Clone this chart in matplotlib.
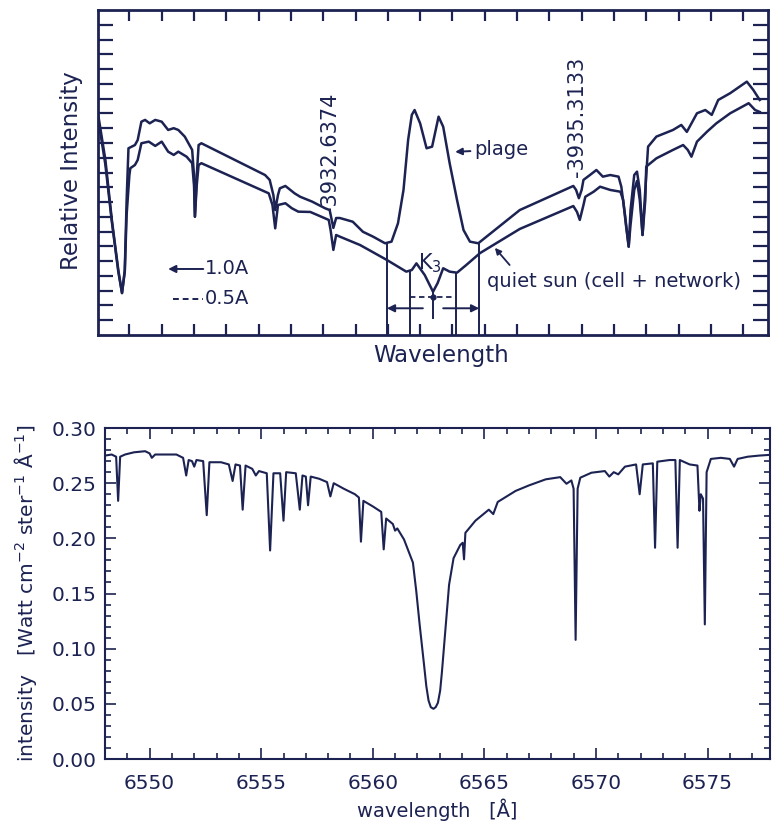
import matplotlib.pyplot as plt
import numpy as np
from matplotlib.ticker import MultipleLocator, FormatStrFormatter

ink = '#1c2352'
plt.rcParams['font.family'] = 'DejaVu Sans'

# Ca II K profile (relative units): plage and quiet sun
k_wave_plage = [3930.08, 3930.17, 3930.24, 3930.31, 3930.35, 3930.38, 3930.40, 3930.42,
                3930.49, 3930.52, 3930.56, 3930.60, 3930.65, 3930.71, 3930.78, 3930.85,
                3930.91, 3930.96, 3931.03, 3931.11, 3931.13, 3931.14, 3931.16, 3931.18,
                3931.21, 3931.90, 3931.95, 3931.99, 3932.01, 3932.04, 3932.06, 3932.12,
                3932.22, 3932.28, 3932.41, 3932.55, 3932.60, 3932.64, 3932.67, 3932.71,
                3932.85, 3932.96, 3933.07, 3933.20, 3933.27, 3933.34, 3933.40, 3933.45,
                3933.49, 3933.52, 3933.58, 3933.65, 3933.71, 3933.78, 3933.83, 3933.90,
                3933.98, 3934.05, 3934.12, 3934.21, 3934.66, 3935.24, 3935.27, 3935.30,
                3935.33, 3935.35, 3935.42, 3935.49, 3935.56, 3935.64, 3935.73, 3935.76,
                3935.80, 3935.84, 3935.86, 3935.90, 3935.93, 3935.96, 3935.99, 3936.02,
                3936.05, 3936.14, 3936.32, 3936.41, 3936.47, 3936.58, 3936.67, 3936.74,
                3936.81, 3936.94, 3937.12, 3937.19, 3937.26]
k_int_plage = [15.37, 11.85, 7.79, 4.40, 2.84, 4.40, 9.14, 12.64,
               12.86, 13.20, 14.44, 14.56, 14.33, 14.56, 14.44, 13.88,
               14.00, 13.88, 13.43, 12.53, 10.83, 8.01, 10.83, 12.86,
               12.98, 10.83, 10.50, 9.48, 8.46, 9.48, 9.93, 10.09,
               9.59, 9.36, 9.03, 8.58, 8.46, 7.25, 7.92, 7.92,
               7.67, 6.99, 6.66, 6.21, 6.32, 7.56, 9.82, 13.20,
               14.90, 15.23, 14.33, 12.64, 12.75, 14.78, 14.10, 11.63,
               9.14, 7.11, 6.32, 6.21, 8.46, 10.09, 9.82, 9.26,
               9.82, 10.50, 10.83, 11.17, 10.72, 10.83, 10.72, 10.04,
               8.13, 5.98, 8.46, 10.83, 11.06, 9.82, 6.77, 9.82,
               12.75, 13.43, 13.88, 14.22, 13.75, 15.01, 15.23, 14.90,
               15.91, 16.37, 17.15, 16.59, 15.91]

k_wave_quiet = [3930.08, 3930.17, 3930.24, 3930.31, 3930.35, 3930.38, 3930.40, 3930.43,
                3930.44, 3930.49, 3930.52, 3930.56, 3930.64, 3930.71, 3930.78, 3930.85,
                3930.91, 3930.96, 3931.05, 3931.11, 3931.13, 3931.14, 3931.16, 3931.18,
                3931.21, 3931.94, 3931.98, 3932.01, 3932.04, 3932.12, 3932.19, 3932.26,
                3932.39, 3932.59, 3932.61, 3932.64, 3932.67, 3932.71, 3932.93, 3933.22,
                3933.43, 3933.49, 3933.54, 3933.63, 3933.72, 3933.77, 3933.83, 3933.90,
                3933.98, 3934.08, 3934.23, 3934.66, 3935.24, 3935.28, 3935.31, 3935.35,
                3935.37, 3935.46, 3935.53, 3935.64, 3935.75, 3935.78, 3935.81, 3935.84,
                3935.86, 3935.90, 3935.93, 3935.96, 3935.99, 3936.02, 3936.03, 3936.14,
                3936.32, 3936.43, 3936.48, 3936.52, 3936.58, 3936.69, 3936.79, 3936.94,
                3937.14, 3937.21, 3937.26]
k_int_quiet = [15.10, 11.51, 7.65, 4.27, 2.84, 4.27, 8.13, 10.83,
               11.29, 11.51, 11.85, 12.98, 13.09, 12.80, 13.09, 12.41,
               12.19, 12.41, 12.07, 11.63, 10.16, 8.01, 10.16, 11.51,
               11.63, 9.59, 8.80, 7.22, 8.80, 8.92, 8.58, 8.35,
               8.33, 7.79, 7.11, 5.76, 6.77, 6.66, 6.09, 5.08,
               4.29, 4.40, 4.85, 4.06, 2.93, 3.52, 4.52, 4.29,
               4.22, 4.74, 5.55, 7.18, 8.73, 8.33, 7.79, 8.80,
               9.36, 9.70, 10.04, 9.82, 9.70, 9.14, 7.45, 5.98,
               7.45, 9.82, 10.43, 9.14, 6.77, 9.14, 11.40, 11.96,
               12.53, 12.86, 12.53, 12.07, 13.09, 13.77, 14.33, 15.01,
               15.69, 15.23, 15.10]

# H-alpha disc-centre spectrum
ha_wave = [6548.00, 6548.30, 6548.50, 6548.59, 6548.68, 6548.90, 6549.30, 6549.80,
           6550.00, 6550.10, 6550.25, 6550.80, 6551.20, 6551.50, 6551.64, 6551.75,
           6551.90, 6552.00, 6552.10, 6552.40, 6552.56, 6552.68, 6553.20, 6553.55,
           6553.72, 6553.85, 6554.05, 6554.17, 6554.30, 6554.60, 6554.76, 6554.90,
           6555.25, 6555.40, 6555.55, 6555.85, 6556.00, 6556.12, 6556.55, 6556.73,
           6556.85, 6557.00, 6557.10, 6557.22, 6557.60, 6557.95, 6558.10, 6558.25,
           6558.70, 6559.20, 6559.38, 6559.47, 6559.58, 6560.00, 6560.38, 6560.49,
           6560.60, 6560.90, 6561.00, 6561.10, 6561.40, 6561.80, 6561.95, 6562.10,
           6562.30, 6562.40, 6562.50, 6562.60, 6562.72, 6562.82, 6562.92, 6563.02,
           6563.10, 6563.25, 6563.42, 6563.62, 6563.92, 6564.03, 6564.09, 6564.15,
           6564.60, 6565.20, 6565.40, 6565.60, 6566.40, 6567.00, 6567.75, 6568.40,
           6568.68, 6568.90, 6569.00, 6569.09, 6569.18, 6569.30, 6569.80, 6570.40,
           6570.60, 6570.80, 6571.00, 6571.30, 6571.80, 6571.96, 6572.10, 6572.55,
           6572.65, 6572.75, 6573.30, 6573.56, 6573.66, 6573.76, 6574.20, 6574.55,
           6574.64, 6574.70, 6574.80, 6574.88, 6574.96, 6575.15, 6575.60, 6576.00,
           6576.19, 6576.35, 6576.80, 6577.30, 6577.80]
ha_int = [0.275, 0.276, 0.274, 0.234, 0.274, 0.276, 0.278, 0.279,
          0.277, 0.273, 0.276, 0.276, 0.276, 0.273, 0.257, 0.271,
          0.270, 0.265, 0.271, 0.270, 0.221, 0.269, 0.269, 0.267,
          0.252, 0.267, 0.266, 0.226, 0.266, 0.263, 0.257, 0.261,
          0.259, 0.189, 0.259, 0.259, 0.216, 0.260, 0.259, 0.226,
          0.257, 0.256, 0.230, 0.256, 0.254, 0.251, 0.238, 0.250,
          0.245, 0.240, 0.237, 0.197, 0.234, 0.229, 0.224, 0.190,
          0.218, 0.213, 0.207, 0.209, 0.199, 0.178, 0.152, 0.122,
          0.085, 0.066, 0.053, 0.047, 0.0455, 0.047, 0.051, 0.062,
          0.079, 0.116, 0.158, 0.182, 0.194, 0.196, 0.181, 0.205,
          0.216, 0.226, 0.222, 0.233, 0.243, 0.248, 0.2535, 0.2555,
          0.2495, 0.2525, 0.245, 0.108, 0.245, 0.255, 0.2595, 0.261,
          0.256, 0.260, 0.258, 0.265, 0.267, 0.240, 0.267, 0.268,
          0.1915, 0.2695, 0.271, 0.271, 0.1915, 0.271, 0.267, 0.266,
          0.225, 0.240, 0.236, 0.122, 0.260, 0.272, 0.273, 0.272,
          0.265, 0.272, 0.274, 0.275, 0.2757]

fig = plt.figure(figsize=(7.73, 8.26), dpi=100)
ax1 = fig.add_axes([0.1268, 0.5944, 0.8668, 0.3935])
ax2 = fig.add_axes([0.1358, 0.0811, 0.8603, 0.4007])

# --- upper panel: Ca II K ---
ax1.plot(k_wave_plage, k_int_plage, color=ink, lw=1.8)
ax1.plot(k_wave_quiet, k_int_quiet, color=ink, lw=1.8)
ax1.set_xlim(3930.09, 3937.35)
ax1.set_ylim(0, 22.0)
ax1.set_xticks(np.arange(3930.43, 3937.3, 0.35))
ax1.set_yticks(np.arange(1, 22))
ax1.tick_params(direction='in', top=True, right=True, labelbottom=False,
                labelleft=False, width=1.6, color=ink)
ax1.tick_params(axis='x', length=8)
ax1.tick_params(axis='y', length=11)
for sp in ax1.spines.values():
    sp.set_linewidth(2.0)
    sp.set_color(ink)

# 1.0 A and 0.5 A bands centred on K3
k3 = 3933.72
outer = (3933.22, 3934.22)
inner = (3933.47, 3933.97)
for x in outer:
    ax1.plot([x, x], [0, np.interp(x, k_wave_plage, k_int_plage)], color=ink, lw=1.4)
for x in inner:
    ax1.plot([x, x], [0, np.interp(x, k_wave_quiet, k_int_quiet)], color=ink, lw=1.4)
ax1.plot([k3, k3], [1.13, np.interp(k3, k_wave_quiet, k_int_quiet)], color=ink, lw=1.4)
ax1.plot(inner, [2.59, 2.59], color=ink, lw=1.3, ls=(0, (3, 2)))
ax1.plot([k3], [2.59], 'o', color=ink, ms=3.5)
arr = dict(arrowstyle='-|>', color=ink, lw=1.4, mutation_scale=11, shrinkA=0, shrinkB=0)
ax1.annotate('', xy=(outer[0], 1.81), xytext=(3933.61, 1.81), arrowprops=arr)
ax1.annotate('', xy=(outer[1], 1.81), xytext=(3933.83, 1.81), arrowprops=arr)
ax1.text(3933.69, 4.85, 'K$_3$', ha='center', va='center', fontsize=15, color=ink)

# key
ax1.annotate('', xy=(3930.85, 4.47), xytext=(3931.23, 4.47), arrowprops=arr)
ax1.text(3931.25, 4.47, '1.0A', ha='left', va='center', fontsize=14, color=ink)
ax1.plot([3930.90, 3931.23], [2.44, 2.44], color=ink, lw=1.4, ls=(0, (3, 2)))
ax1.text(3931.25, 2.44, '0.5A', ha='left', va='center', fontsize=14, color=ink)

# line identifications and curve labels
ax1.text(3932.60, 8.26, '-3932.6374', rotation=90, ha='center', va='bottom',
         fontsize=15, color=ink)
ax1.text(3935.28, 10.70, '-3935.3133', rotation=90, ha='center', va='bottom',
         fontsize=15, color=ink)
ax1.annotate('plage', xy=(3933.96, 12.40), xytext=(3934.17, 12.55),
             ha='left', va='center', fontsize=14, color=ink,
             arrowprops=dict(arrowstyle='-|>', color=ink, lw=1.4, mutation_scale=10,
                             shrinkA=1, shrinkB=0))
ax1.text(3934.30, 3.61, 'quiet sun (cell + network)', ha='left', va='center',
         fontsize=14, color=ink)
ax1.annotate('', xy=(3934.39, 5.9), xytext=(3934.55, 4.74),
             arrowprops=dict(arrowstyle='-|>', color=ink, lw=1.3, mutation_scale=9,
                             shrinkA=0, shrinkB=0))
ax1.text(-0.039, 0.505, 'Relative Intensity', transform=ax1.transAxes, rotation=90,
         ha='center', va='center', fontsize=16.5, color=ink)
ax1.text(0.512, -0.062, 'Wavelength', transform=ax1.transAxes,
         ha='center', va='center', fontsize=16.5, color=ink)

# --- lower panel: H-alpha ---
ax2.plot(ha_wave, ha_int, color=ink, lw=1.5)
ax2.set_xlim(6548.0, 6577.8)
ax2.set_ylim(0, 0.30)
ax2.xaxis.set_major_locator(MultipleLocator(5))
ax2.xaxis.set_minor_locator(MultipleLocator(1))
ax2.yaxis.set_major_locator(MultipleLocator(0.05))
ax2.yaxis.set_minor_locator(MultipleLocator(0.01))
ax2.yaxis.set_major_formatter(FormatStrFormatter('%.2f'))
ax2.tick_params(which='both', direction='in', top=True, right=True,
                color=ink, labelcolor=ink, labelsize=14.5, width=1.2)
ax2.tick_params(which='major', length=8)
ax2.tick_params(which='minor', length=4.5)
ax2.tick_params(axis='x', pad=11)
ax2.tick_params(axis='y', pad=6)
for sp in ax2.spines.values():
    sp.set_linewidth(1.5)
    sp.set_color(ink)
ax2.text(0.5, -0.154, 'wavelength   [Å]', transform=ax2.transAxes,
         ha='center', va='center', fontsize=14, color=ink)
ax2.text(-0.119, 0.5, 'intensity   [Watt cm$^{-2}$ ster$^{-1}$ Å$^{-1}$]',
         transform=ax2.transAxes, rotation=90, ha='center', va='center',
         fontsize=14.5, color=ink)

fig.savefig('out.png', dpi=100, facecolor='white')
